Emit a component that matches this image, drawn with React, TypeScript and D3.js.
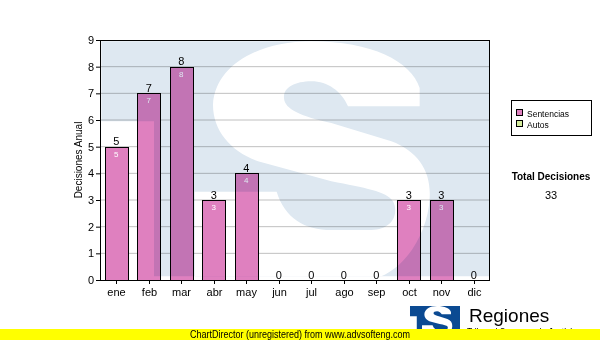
import React from 'react';
import * as d3 from 'd3';

const months = ['ene', 'feb', 'mar', 'abr', 'may', 'jun', 'jul', 'ago', 'sep', 'oct', 'nov', 'dic'];
const sentencias = [5, 7, 8, 3, 4, 0, 0, 0, 0, 3, 3, 0];
const autos = [0, 0, 0, 0, 0, 0, 0, 0, 0, 0, 0, 0];
const yTicks = [0, 1, 2, 3, 4, 5, 6, 7, 8, 9];
const seriesNames = ['Sentencias', 'Autos'];
const seriesColors = ['#df80bf', '#d4ec9c'];
const yTitle = 'Decisiones Anual';
const totalTitle = 'Total Decisiones';
const footerText = 'ChartDirector (unregistered) from www.advsofteng.com';
const logoTitle = 'Regiones';
const logoSub = 'Tribunal Supremo de Justicia';

const W = 600;
const H = 340;
const FONT = "'Liberation Sans', Arial, sans-serif";

// watermark / logo outline, in its own design units (box 10..1175 x 10..715)
const LOGO_BLUE = 'M10 10 H1175 V715 H168 V250 H10 Z';
const LOGO_S =
  'M965 205 L750 205 C730 160 690 130 640 130 C590 130 555 150 558 180 C560 215 610 235 700 255 L880 310 ' +
  'C960 340 1000 400 995 480 C990 580 930 680 850 715 L290 715 L290 461 L536 461 ' +
  'C560 540 620 576 700 576 L820 576 C880 576 905 530 885 490 C865 460 800 450 700 430 L480 370 ' +
  'C400 340 345 280 345 200 C350 90 470 10 640 10 C820 10 940 70 965 150 Z';

export default function App() {
  const plot = { left: 100, top: 40, right: 490, bottom: 280 };
  const x = d3
    .scaleBand<string>()
    .domain(months)
    .range([plot.left, plot.right])
    .paddingInner(0.3)
    .paddingOuter(0.15);
  const y = d3.scaleLinear().domain([0, 9]).range([plot.bottom, plot.top]);
  const totals = months.map((_, i) => sentencias[i] + autos[i]);
  const grand = d3.sum(totals);

  const wmScale = 1 / 3;
  const wmTx = plot.left - 2;
  const wmTy = plot.top - 2;
  const logoX = 410;
  const logoY = 306;
  const logoS = 50 / 1165;

  return (
    <svg
      width={W}
      height={H}
      style={{ position: 'absolute', left: 0, top: 0, background: '#fff' }}
      fontFamily={FONT}
    >
      <rect x={0} y={0} width={W} height={H} fill="#fff" />
      {/* grid */}
      {yTicks.slice(1, -1).map((t) => (
        <line
          key={'g' + t}
          x1={plot.left}
          x2={plot.right}
          y1={y(t)}
          y2={y(t)}
          stroke="#c0c0c0"
          strokeWidth={1}
        />
      ))}
      {/* bars */}
      {months.map((m, i) => {
        const x0 = x(m)!;
        const bw = x.bandwidth();
        const segs = [sentencias[i], autos[i]];
        let acc = 0;
        return (
          <g key={'b' + m}>
            {segs.map((v, si) => {
              const y0 = y(acc);
              acc += v;
              const y1 = y(acc);
              if (v <= 0) return null;
              return (
                <rect
                  key={si}
                  x={Math.round(x0) + 0.5}
                  y={Math.round(y1) + 0.5}
                  width={Math.round(bw)}
                  height={Math.round(y0) - Math.round(y1)}
                  fill={seriesColors[si]}
                  stroke="#000"
                  strokeWidth={1}
                />
              );
            })}
            {sentencias[i] > 0 && (
              <text
                x={x0 + bw / 2}
                y={y(sentencias[i]) + 10}
                textAnchor="middle"
                fontSize={8}
                fill="#fff"
              >
                {sentencias[i]}
              </text>
            )}
          </g>
        );
      })}
      {/* watermark */}
      <g
        transform={`translate(${wmTx},${wmTy}) scale(${wmScale})`}
        style={{ mixBlendMode: 'multiply' }}
      >
        <path d={LOGO_BLUE} fill="#dee8f1" />
        <path d={LOGO_S} fill="#fff" />
      </g>
      {/* frame */}
      <rect
        x={plot.left + 0.5}
        y={plot.top + 0.5}
        width={plot.right - plot.left - 1}
        height={plot.bottom - plot.top}
        fill="none"
        stroke="#000"
        strokeWidth={1}
      />
      {/* y axis */}
      {yTicks.map((t) => (
        <g key={'y' + t}>
          <line x1={plot.left - 4} x2={plot.left} y1={y(t) + 0.5} y2={y(t) + 0.5} stroke="#000" />
          <text x={plot.left - 6} y={y(t) + 4} textAnchor="end" fontSize={11} fill="#000">
            {t}
          </text>
        </g>
      ))}
      <text
        transform={`translate(82,${(plot.top + plot.bottom) / 2}) rotate(-90)`}
        textAnchor="middle"
        fontSize={10}
        fill="#000"
      >
        {yTitle}
      </text>
      {/* x axis */}
      {months.map((m) => {
        const cx = Math.round(x(m)! + x.bandwidth() / 2) + 0.5;
        return (
          <g key={'x' + m}>
            <line x1={cx} x2={cx} y1={plot.bottom} y2={plot.bottom + 4} stroke="#000" />
            <text x={cx} y={plot.bottom + 16} textAnchor="middle" fontSize={11} fill="#000">
              {m}
            </text>
          </g>
        );
      })}
      {/* totals above bars */}
      {months.map((m, i) => (
        <text
          key={'t' + m}
          x={x(m)! + x.bandwidth() / 2}
          y={y(totals[i]) - 1.5}
          textAnchor="middle"
          fontSize={11}
          fill="#000"
        >
          {totals[i]}
        </text>
      ))}
      {/* legend */}
      <rect x={511.5} y={100.5} width={80} height={35} fill="#fff" stroke="#000" />
      {seriesNames.map((s, i) => (
        <g key={'l' + s}>
          <rect
            x={516.5}
            y={109.5 + i * 11}
            width={6}
            height={6}
            fill={seriesColors[i]}
            stroke="#000"
          />
          <text x={527} y={116.5 + i * 11} fontSize={8.5} fill="#000">
            {s}
          </text>
        </g>
      ))}
      <text x={551} y={180} textAnchor="middle" fontSize={10} fontWeight="bold" fill="#000">
        {totalTitle}
      </text>
      <text x={551} y={199} textAnchor="middle" fontSize={11} fill="#000">
        {grand}
      </text>
      {/* logo */}
      <g transform={`translate(${logoX - 10 * logoS},${logoY - 10 * logoS}) scale(${logoS})`}>
        <path d={LOGO_BLUE} fill="#0b4a92" />
        <path d={LOGO_S} fill="#fff" />
      </g>
      <text x={469} y={322} fontSize={19} fill="#000">
        {logoTitle}
      </text>
      <text x={467} y={336} fontSize={10} fill="#000" textLength={110} lengthAdjust="spacingAndGlyphs">
        {logoSub}
      </text>
      {/* footer */}
      <rect x={0} y={329} width={W} height={11} fill="#ffff00" />
      <text x={190} y={338} fontSize={10} fill="#000" textLength={220} lengthAdjust="spacingAndGlyphs">
        {footerText}
      </text>
    </svg>
  );
}
